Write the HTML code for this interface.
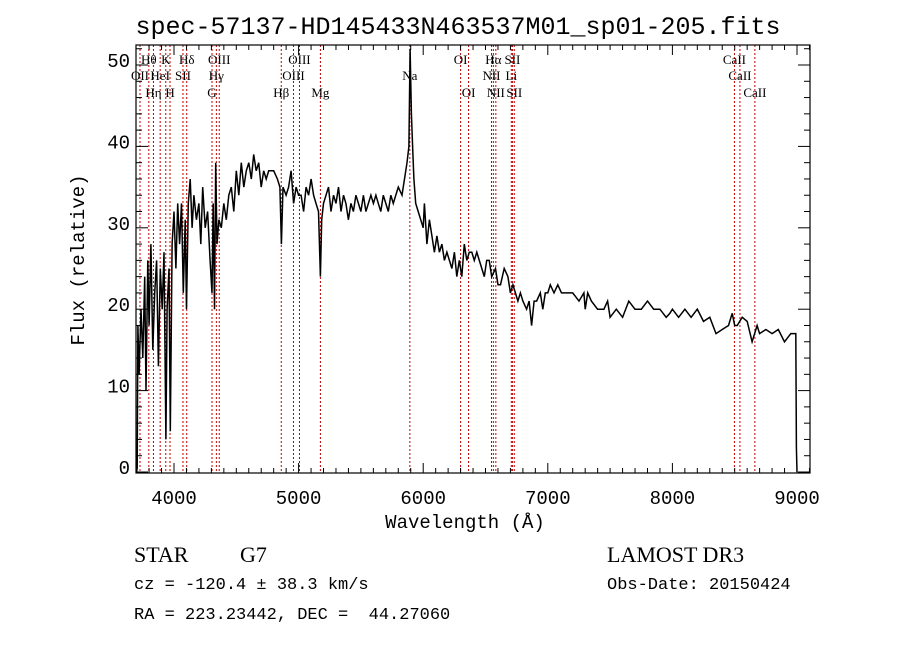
<!DOCTYPE html>
<html><head><meta charset="utf-8"><style>
body{margin:0;background:#fff;width:900px;height:649px;overflow:hidden}
svg{display:block}
text{font-family:"Liberation Mono","DejaVu Sans Mono",monospace;fill:#000}
.lab{font-family:"Liberation Serif",serif;font-size:13px}
</style></head><body>
<svg id="chart" width="900" height="649" viewBox="0 0 900 649" xmlns="http://www.w3.org/2000/svg">
<text x="458" y="34" font-size="25" text-anchor="middle">spec-57137-HD145433N463537M01_sp01-205.fits</text>
<g id="lines"></g>
<g id="labels"></g>
<path id="spec" fill="none" stroke="#000" stroke-width="1.5"/>
<rect x="136" y="45" width="674" height="428" fill="none" stroke="#000" stroke-width="1.2"/>
<g id="ticks" stroke="#000" stroke-width="1"></g>
<g id="tlabels"></g>
<text x="465" y="528" font-size="19" text-anchor="middle">Wavelength (Å)</text>
<text transform="translate(84,260) rotate(-90)" font-size="19" text-anchor="middle">Flux (relative)</text>
<text x="134" y="562" font-size="22" style="font-family:'Liberation Serif',serif">STAR</text>
<text x="240" y="562" font-size="22" style="font-family:'Liberation Serif',serif">G7</text>
<text x="134" y="589" font-size="17">cz = -120.4 ± 38.3 km/s</text>
<text x="134" y="619" font-size="17" xml:space="preserve">RA = 223.23442, DEC =  44.27060</text>
<text x="607" y="562" font-size="22" style="font-family:'Liberation Serif',serif">LAMOST DR3</text>
<text x="607" y="589" font-size="17">Obs-Date: 20150424</text>
</svg>
<script>
const wl=[3700,3705,3710,3720,3735,3750,3765,3775,3790,3800,3815,3830,3845,3860,3875,3890,3905,3920,3935,3945,3960,3970,3985,4000,4015,4030,4045,4060,4075,4090,4100,4115,4130,4145,4160,4180,4200,4215,4230,4250,4270,4290,4305,4315,4325,4335,4345,4360,4380,4400,4420,4440,4460,4480,4500,4520,4540,4560,4580,4600,4620,4640,4660,4680,4700,4720,4740,4760,4780,4800,4830,4850,4862,4875,4900,4920,4940,4960,4980,5000,5020,5040,5060,5080,5100,5120,5140,5160,5175,5185,5200,5220,5240,5260,5280,5300,5320,5340,5360,5380,5400,5420,5440,5460,5480,5500,5520,5540,5560,5580,5600,5620,5640,5660,5680,5700,5720,5740,5760,5780,5800,5830,5850,5870,5885,5895,5905,5915,5925,5940,5960,5980,6000,6010,6030,6050,6070,6090,6110,6130,6150,6170,6190,6210,6230,6250,6270,6290,6310,6330,6350,6370,6390,6410,6430,6450,6470,6490,6510,6530,6550,6580,6600,6620,6650,6680,6700,6720,6740,6760,6780,6800,6830,6850,6870,6890,6910,6940,6960,6980,7000,7020,7050,7080,7110,7150,7200,7250,7290,7300,7320,7350,7400,7450,7480,7500,7550,7600,7650,7700,7750,7800,7850,7900,7950,7980,8000,8050,8100,8150,8200,8250,8300,8350,8400,8450,8480,8500,8520,8560,8600,8640,8680,8700,8750,8800,8850,8900,8950,8990,8995,9000];
const flux=[0,0.5,18,12,20,14,24,10,26,18,28,15,22,26,13,25,20,27,4,20,25,5,28,32,25,33,28,33,22,31,20,33,36,30,34,31,33,28,35,30,32,26,22,33,20,38,28,31,30,33,31,34,35,32,37,34,38,35,37,38,36,39,37,38,35,37,36,37,37,37,36,35,28,35,34,35,37,33,35,34,34,32,35,34,36,34,33,32,24,31,33,34,35,32,34,33,35,32,34,33,31,33,32,34,33,32,34,32,33,34,33,34,33,32,34,33,32,34,33,34,35,34,36,38,40,52,44,40,36,33,32,31,30,33,28,31,29,27,29,27,28,26,27,26,25,27,24,26,24,28,26,27,27,26,27,26,25,24,26,26,24,25,23,23,25,24,22,23,22,21,22,21,20,21,18,21,21,22,20,22,22,23,22,23,22,22,22,21,22,20,22,21,20,20,21,19,20,19,21,20,20,21,20,20,19,19.5,20,19,20,19,20,18.5,19,17,17.5,18,19.5,18,18,19,18.5,16,18,17,17.5,17,17.5,16,17,17,3,0];
const lineWl=[3727,3798,3835,3889,3934,3968,4072,4102,4305,4340,4363,4861,4959,5007,5175,5893,6300,6364,6548,6563,6583,6707,6716,6731,8498,8542,8662];
const lineName=["OII","Hθ","Hη","HeI","K","H","SII","Hδ","G","Hγ","OIII","Hβ","OIII","OIII","Mg","Na","OI","OI","NII","Hα","NII","Li","SII","SII","CaII","CaII","CaII"];
const lineRow=[2,1,3,2,1,3,2,1,3,2,1,3,2,1,3,2,1,3,2,1,3,2,1,3,1,2,3];
const xTicks=[4000,5000,6000,7000,8000,9000];
const yTicks=[0,10,20,30,40,50];
const X=w=>174+(w-4000)*0.1246;
const Y=f=>472-f*8.14;
const NS="http://www.w3.org/2000/svg";
const mk=(t,p,a)=>{const e=document.createElementNS(NS,t);for(const k in a)e.setAttribute(k,a[k]);p.appendChild(e);return e;};
let d="";wl.forEach((w,i)=>{d+=(i?"L":"M")+X(w).toFixed(1)+" "+Y(Math.min(flux[i],52.6)).toFixed(1);});
document.getElementById("spec").setAttribute("d",d);
const lg=document.getElementById("lines"),lb=document.getElementById("labels");
lineWl.forEach((w,i)=>{
 const l=mk("line",lg,{x1:X(w),x2:X(w),y1:45,y2:473,stroke:"#c00000","stroke-width":1,"stroke-dasharray":"2,2"});
 
 
 const t=mk("text",lb,{x:X(w),y:[0,64,80,97][lineRow[i]],"text-anchor":"middle",class:"lab"});
 
 
 t.textContent=lineName[i];
});
const tk=document.getElementById("ticks"),tl=document.getElementById("tlabels");
for(let w=3800;w<=9100;w+=100){const L=(w%1000===0)?10:5;
 mk("line",tk,{x1:X(w),x2:X(w),y1:473,y2:473-L});mk("line",tk,{x1:X(w),x2:X(w),y1:45,y2:45+L});}
for(let f=0;f<=52;f+=2){const L=(f%10===0)?12:6;
 mk("line",tk,{x1:136,x2:136+L,y1:Y(f),y2:Y(f)});mk("line",tk,{x1:810,x2:810-L,y1:Y(f),y2:Y(f)});}
xTicks.forEach(w=>{const t=mk("text",tl,{x:X(w),y:504,"font-size":19,"text-anchor":"middle"});
 
 
 t.textContent=w;});
yTicks.forEach(f=>{const t=mk("text",tl,{x:130,y:Y(f)+2,"font-size":19,"text-anchor":"end"});
 
 
 t.textContent=f;});
</script>
</body></html>
